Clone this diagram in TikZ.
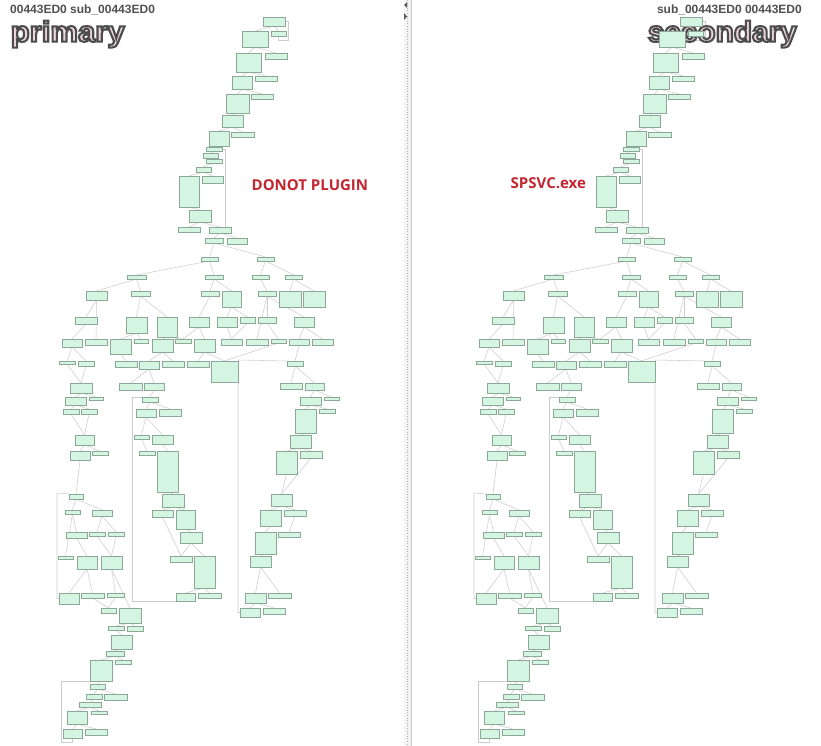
\documentclass[tikz,border=0pt]{standalone}
\usepackage{fontspec}
\setmainfont{Liberation Sans}
\newfontfamily\opensans{Open Sans}
\usepackage{graphicx}
\definecolor{boxfill}{RGB}{212,245,225}
\definecolor{boxdraw}{RGB}{140,168,150}
\definecolor{edgecol}{RGB}{205,205,205}
\definecolor{hdr}{RGB}{80,80,80}
\definecolor{redlabel}{RGB}{196,38,48}
\definecolor{pinkfill}{RGB}{236,212,218}
\newcommand\outlinetext[1]{\special{pdf:literal direct 2 Tr 0.7 w 0.3 0.3 0.3 RG}#1\special{pdf:literal direct 0 Tr}}
\pgfdeclarelayer{bg}
\pgfsetlayers{bg,main}
\tikzset{
  gbx/.style={draw=boxdraw, fill=boxfill, line width=0.6pt, inner sep=0pt, outer sep=0pt, rectangle},
  edg/.style={draw=edgecol, line width=0.55pt}
}
\newcommand\gbox[5]{%
  \pgfmathsetmacro\gbxw{#4-#2}\pgfmathsetmacro\gbxh{#5-#3}%
  \node[gbx, minimum width=\gbxw pt, minimum height=\gbxh pt] (#1) at ({(#2+#4)/2},{(#3+#5)/2}) {};}
\newcommand\graphbody{%
\gbox{a1}{263}{17}{285}{26}
\gbox{a2}{242}{31}{268}{47}
\gbox{a3}{271}{31}{286}{36}
\gbox{a4}{236}{53}{261}{72}
\gbox{a5}{265}{53}{287}{59}
\gbox{a6}{232}{76}{252}{89}
\gbox{a7}{255}{76}{277}{81}
\gbox{a8}{226}{94}{249}{113}
\gbox{a9}{251}{94}{273}{99}
\gbox{a10}{222}{115}{243}{127}
\gbox{a11}{231}{132}{254}{137}
\gbox{a12}{209}{131}{229}{146}
\gbox{a13}{206}{147}{222}{151}
\gbox{a14}{203}{153}{218}{158}
\gbox{a15}{206}{159}{222}{163}
\gbox{a16}{196}{167}{211}{172}
\gbox{a17}{202}{176}{223}{183}
\gbox{a18}{179}{176}{199}{207}
\gbox{a19}{189}{210}{211}{222}
\gbox{a20}{178}{227}{200}{232}
\gbox{a21}{209}{227}{231}{233}
\gbox{a22}{205}{238}{223}{243}
\gbox{a23}{227}{238}{247}{244}
\gbox{b1}{201}{257}{218}{261}
\gbox{b2}{257}{257}{274}{261}
\gbox{c1}{127}{275}{146}{279}
\gbox{c2}{205}{275}{223}{279}
\gbox{c3}{252}{275}{269}{279}
\gbox{c4}{285}{275}{302}{279}
\gbox{d1}{86}{291}{107}{300}
\gbox{d2}{131}{291}{150}{296}
\gbox{d3}{201}{291}{219}{296}
\gbox{d4}{222}{291}{241}{307}
\gbox{d5}{258}{291}{276}{296}
\gbox{d6}{279}{291}{301}{307}
\gbox{d7}{303}{291}{325}{307}
\gbox{e1}{75}{317}{97}{324}
\gbox{e2}{126}{317}{147}{333}
\gbox{e3}{157}{317}{177}{337}
\gbox{e4}{189}{317}{209}{327}
\gbox{e5}{217}{317}{237}{327}
\gbox{e6}{240}{317}{255}{323}
\gbox{e7}{258}{317}{276}{323}
\gbox{e8}{294}{317}{314}{327}
\gbox{f1}{62}{339}{82}{347}
\gbox{f2}{85}{339}{107}{345}
\gbox{f3}{110}{339}{131}{354}
\gbox{f4}{134}{339}{148}{343}
\gbox{f5}{152}{339}{173}{352}
\gbox{f6}{175}{339}{191}{343}
\gbox{f7}{194}{339}{215}{352}
\gbox{f8}{221}{339}{242}{345}
\gbox{f9}{246}{339}{268}{345}
\gbox{f10}{271}{339}{286}{343}
\gbox{f11}{289}{339}{309}{345}
\gbox{f12}{312}{339}{333}{345}
\gbox{g1}{59}{361}{75}{364}
\gbox{g2}{78}{361}{94}{366}
\gbox{g3}{115}{361}{137}{367}
\gbox{g4}{139}{361}{159}{369}
\gbox{g5}{162}{361}{184}{367}
\gbox{g6}{187}{361}{209}{367}
\gbox{g7}{211}{361}{238}{382}
\gbox{g8}{287}{361}{303}{366}
\gbox{h1}{70}{383}{92}{393}
\gbox{h2}{119}{383}{142}{390}
\gbox{h3}{144}{383}{164}{390}
\gbox{h4}{280}{383}{302}{389}
\gbox{h5}{305}{383}{324}{390}
\gbox{i1}{65}{397}{86}{405}
\gbox{i2}{89}{397}{103}{400}
\gbox{i3}{142}{397}{158}{402}
\gbox{i4}{300}{397}{321}{405}
\gbox{i5}{324}{397}{339}{400}
\gbox{j1}{63}{409}{79}{414}
\gbox{j2}{81}{409}{97}{414}
\gbox{j3}{136}{409}{156}{417}
\gbox{j4}{159}{409}{181}{416}
\gbox{j5}{295}{409}{316}{433}
\gbox{j6}{319}{409}{335}{413}
\gbox{k1}{75}{435}{94}{445}
\gbox{k2}{134}{435}{149}{439}
\gbox{k3}{152}{435}{173}{444}
\gbox{k4}{290}{435}{311}{448}
\gbox{l1}{70}{451}{90}{460}
\gbox{l2}{92}{451}{108}{455}
\gbox{l3}{139}{451}{155}{455}
\gbox{l4}{157}{451}{178}{492}
\gbox{l5}{276}{451}{297}{474}
\gbox{l6}{300}{451}{322}{458}
\gbox{m1}{69}{494}{83}{499}
\gbox{m2}{162}{494}{184}{507}
\gbox{m3}{271}{494}{292}{506}
\gbox{n1}{65}{510}{80}{514}
\gbox{n2}{92}{510}{112}{516}
\gbox{n3}{152}{510}{173}{517}
\gbox{n4}{176}{510}{195}{529}
\gbox{n5}{260}{510}{281}{526}
\gbox{n6}{284}{510}{306}{516}
\gbox{o1}{66}{532}{87}{538}
\gbox{o2}{89}{532}{105}{536}
\gbox{o3}{108}{532}{124}{536}
\gbox{o4}{180}{532}{202}{543}
\gbox{o5}{255}{532}{276}{554}
\gbox{o6}{278}{532}{300}{537}
\gbox{p1}{58}{556}{73}{559}
\gbox{p2}{77}{556}{97}{569}
\gbox{p3}{101}{556}{122}{569}
\gbox{p4}{170}{556}{192}{562}
\gbox{p5}{194}{556}{215}{588}
\gbox{p6}{250}{556}{271}{567}
\gbox{q1}{59}{593}{79}{604}
\gbox{q2}{81}{593}{104}{598}
\gbox{q3}{107}{593}{124}{597}
\gbox{q4}{176}{593}{195}{601}
\gbox{q5}{198}{593}{221}{598}
\gbox{q6}{245}{593}{266}{603}
\gbox{q7}{268}{593}{291}{598}
\gbox{r1}{101}{608}{116}{613}
\gbox{r2}{119}{608}{141}{623}
\gbox{r3}{240}{608}{260}{617}
\gbox{r4}{263}{608}{285}{614}
\gbox{s1}{108}{626}{124}{630}
\gbox{s2}{127}{626}{143}{631}
\gbox{s3}{111}{635}{132}{649}
\gbox{s4}{106}{651}{124}{656}
\gbox{s5}{115}{660}{131}{664}
\gbox{s6}{90}{660}{112}{681}
\gbox{s7}{90}{684}{105}{689}
\gbox{s8}{86}{694}{102}{699}
\gbox{s9}{104}{694}{127}{700}
\gbox{s10}{79}{702}{101}{707}
\gbox{s11}{91}{711}{107}{714}
\gbox{s12}{67}{711}{87}{724}
\gbox{s13}{63}{729}{82}{738}
\gbox{s14}{85}{729}{107}{735}
\coordinate (V1) at (225,149);
\coordinate (LA) at (288,40);
\coordinate (LB) at (132,601);
\coordinate (LC) at (238,360);
\coordinate (LD) at (57,493);
\coordinate (LE) at (61.5,742);
\begin{pgfonlayer}{bg}
\foreach \p/\c in {a1/a2,a1/a3,a2/a4,a2/a5,a4/a6,a4/a7,a6/a8,a6/a9,a8/a10,a10/a11,a10/a12,
  a12/a13,a13/a14,a14/a15,a15/a16,a16/a17,a16/a18,a18/a19,a19/a20,a19/a21,a21/a22,a21/a23,
  a22/b1,a22/b2,b1/c1,b1/c2,b2/c3,b2/c4,c1/d1,c1/d2,c2/d3,c2/d4,c3/d5,c4/d6,c4/d7,
  d1/e1,d1/f2,d2/e2,d2/e3,d3/e4,d4/e5,d4/e6,d5/e7,d5/e8,d5/f9,
  e1/f1,e2/f3,e2/f4,e3/f5,e3/f6,e4/f7,e4/f6,e5/f8,e6/f8,e7/f10,e8/f11,e8/f12,
  f1/g1,f1/g2,f3/g3,f5/g4,f5/g5,f7/g6,f7/g7,f10/g7,f11/g8,
  g1/h1,g2/h1,g4/h2,g4/h3,g8/h4,g8/h5,h1/i1,h1/i2,h3/i3,h5/i4,h5/i5,
  i1/j1,i1/j2,i3/j3,i3/j4,i4/j5,i4/j6,j1/k1,j2/k1,j3/k2,j3/k3,j5/k4,
  k1/l1,k1/l2,k2/l3,k3/l4,k4/l5,k4/l6,l1/m1,l4/m2,l5/m3,l6/m3,
  m1/n1,m1/n2,m2/n3,m2/n4,m3/n5,m3/n6,n1/o1,n1/p1,n2/o2,n2/o3,n4/o4,n5/o5,n6/o6,
  o1/p2,o2/p3,o3/p3,n3/p4,o4/p4,o4/p5,o5/p6,p2/q1,p2/q2,p3/q3,p5/q4,p5/q5,p6/q6,p6/q7,
  q2/r1,q3/r1,p3/r2,q6/r3,q6/r4,r2/s1,r2/s2,s1/s3,s3/s4,s4/s5,s4/s6,s6/s7,s7/s8,s7/s9,
  s8/s10,s10/s11,s10/s12,s12/s13,s12/s14}
  {\draw[edg] (\p.south) -- (\c.north);}
\draw[edg] (a13.east) -- (V1) -- (V1 |- a21.north);
\draw[edg] (a3.south) |- (LA) |- (a1.east);
\draw[edg] (q4.south) |- (LB) |- (i3.north west);
\draw[edg] (r3.west) -| (LC) -- (g8.north west);
\draw[edg] (q1.west) -| (LD) -- (m1.north west);
\draw[edg] (s6.south west) -| (LE) -| (s13.south);
\end{pgfonlayer}
}
\begin{document}
\begin{tikzpicture}[x=1pt,y=-1pt]
\useasboundingbox (0,0) rectangle (821,746);
\begin{pgfonlayer}{bg}
\fill[white] (0,0) rectangle (821,746);
\end{pgfonlayer}
% divider
\fill[gray!9] (404,0) rectangle (411,746);
\draw[gray!60, line width=0.6pt, dotted] (407.5,0) -- (407.5,746);
\draw[gray!45, line width=0.6pt] (411,0) -- (411,746);
\fill[gray!70!black] (404,5) -- (407,2) -- (407,8) -- cycle;
\fill[gray!70!black] (404,13) -- (404,20) -- (407,16.5) -- cycle;
% headers
\node[anchor=base west, inner sep=0pt, text=hdr, font=\bfseries\fontsize{12}{14}\selectfont] (t1) at (10,13.3) {00443ED0 sub\_00443ED0};
\node[anchor=base east, inner sep=0pt, text=hdr, font=\bfseries\fontsize{12}{14}\selectfont] (t2) at (802,13.3) {sub\_00443ED0 00443ED0};
\node[anchor=base west, inner sep=0pt] (t3) at (10.5,41.7) {\resizebox{114pt}{21pt}{\bfseries\color{pinkfill}\outlinetext{primary}}};
\node[anchor=base east, inner sep=0pt] (t4) at (797,41.7) {\resizebox{149pt}{21pt}{\bfseries\color{pinkfill}\outlinetext{secondary}}};
% graphs
\begin{scope}[name prefix=L-]
\graphbody
\end{scope}
\begin{scope}[xshift=417pt, name prefix=R-]
\graphbody
\end{scope}
% labels
\node[anchor=base west, inner sep=0pt, text=redlabel, font=\opensans\bfseries\fontsize{15}{18}\selectfont] (t5) at (251.5,190.7) {DONOT PLUGIN};
\node[anchor=base west, inner sep=0pt, text=redlabel, font=\opensans\bfseries\fontsize{15}{18}\selectfont] (t6) at (510.5,189) {SPSVC.exe};
\end{tikzpicture}
\end{document}
